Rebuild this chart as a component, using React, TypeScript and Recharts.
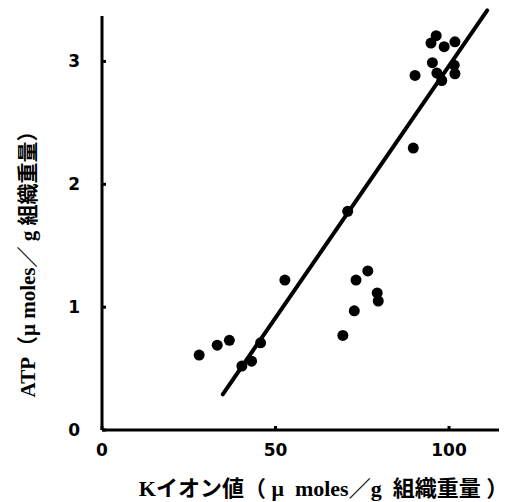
import { Label, ReferenceLine, Scatter, ScatterChart, XAxis, YAxis } from 'recharts'

// K ion value (μmoles/g) vs ATP (μmoles/g)
const kIon = [
    28.0, 33.2, 36.7, 40.3, 43.1, 45.7, 52.7, 70.8, 69.4, 72.7, 73.2, 76.6, 79.3, 79.6,
    89.7, 90.2, 95.2, 94.8, 96.3, 98.6, 101.7, 96.5, 97.9, 101.5, 101.7
]
const atp = [
    0.61, 0.69, 0.73, 0.52, 0.56, 0.71, 1.22, 1.78, 0.77, 0.97, 1.22, 1.295, 1.116, 1.05,
    2.295, 2.886, 2.99, 3.15, 3.21, 3.12, 3.16, 2.905, 2.845, 2.97, 2.9
]
const xTicks = [0, 50, 100]
const yTicks = [0, 1, 2, 3]
const fitStart = { x: 34.8, y: 0.29 }
const fitEnd = { x: 111, y: 3.415 }

const X_TITLE = 'Kイオン値（ μ  moles／g  組織重量 ）'
const Y_TITLE = 'ATP（μ moles／ g 組織重量）'

const points = kIon.map((k, i) => ({ k, atp: atp[i] }))

const FONT = '"Liberation Serif", "Noto Sans CJK JP", serif'
const TICK_FONT = '"DejaVu Sans", sans-serif'
const INK = '#000'

function Dot(props: any) {
    return <circle cx={props.cx} cy={props.cy} r={5.5} fill={INK} />
}

function XTitle(props: any) {
    const vb = props.viewBox
    const cx = vb.x + vb.width / 2 + 23
    return (
        <text
            x={cx}
            y={vb.y + 66}
            textAnchor="middle"
            fill={INK}
            fontSize={22}
            fontWeight="bold"
            fontFamily={FONT}
            style={{ whiteSpace: 'pre' }}
        >
            {X_TITLE}
        </text>
    )
}

function YTitle(props: any) {
    const vb = props.viewBox
    const cx = vb.x + 28
    const cy = vb.y + vb.height / 2 + 36
    return (
        <text
            x={cx}
            y={cy}
            transform={`rotate(-90 ${cx} ${cy})`}
            textAnchor="middle"
            dominantBaseline="central"
            fill={INK}
            fontSize={21}
            fontWeight="bold"
            fontFamily={FONT}
        >
            {Y_TITLE}
        </text>
    )
}

export default function App() {
    return (
        <div style={{ position: 'absolute', left: 0, top: 0, background: '#fff' }}>
            <ScatterChart width={522} height={502} margin={{ top: 16, right: 23, bottom: 0, left: 0 }}>
                <XAxis
                    type="number"
                    dataKey="k"
                    domain={[0, 114.4]}
                    ticks={xTicks}
                    height={72}
                    tickSize={-4}
                    tickMargin={18}
                    stroke={INK}
                    axisLine={{ stroke: INK, strokeWidth: 3 }}
                    tickLine={{ stroke: INK, strokeWidth: 3 }}
                    tick={{ fill: INK, fontSize: 17, fontWeight: 900, fontFamily: TICK_FONT }}
                >
                    <Label content={XTitle} />
                </XAxis>
                <YAxis
                    type="number"
                    dataKey="atp"
                    domain={[0, 3.37]}
                    ticks={yTicks}
                    width={102}
                    tickSize={-4}
                    tickMargin={26}
                    stroke={INK}
                    axisLine={{ stroke: INK, strokeWidth: 3 }}
                    tickLine={{ stroke: INK, strokeWidth: 3 }}
                    tick={{ fill: INK, fontSize: 17, fontWeight: 900, fontFamily: TICK_FONT }}
                >
                    <Label content={YTitle} />
                </YAxis>
                <ReferenceLine
                    segment={[fitStart, fitEnd]}
                    stroke={INK}
                    strokeWidth={4}
                    strokeLinecap="round"
                    ifOverflow="visible"
                />
                <Scatter data={points} fill={INK} shape={Dot} isAnimationActive={false} />
            </ScatterChart>
        </div>
    )
}
